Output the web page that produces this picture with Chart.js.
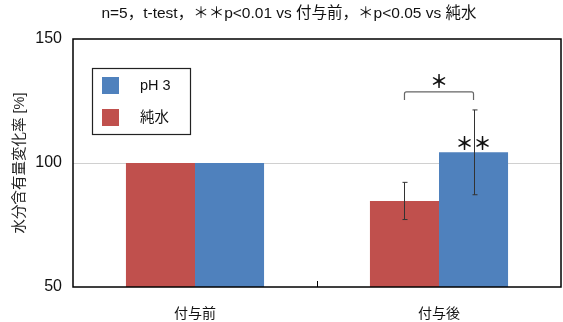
<!DOCTYPE html>
<html><head><meta charset="utf-8">
<script src="https://cdn.jsdelivr.net/npm/chart.js@4/dist/chart.umd.min.js"></script>
<style>html,body{margin:0;padding:0;background:#fff}#wrap{width:563px;height:322px}</style>
</head><body><div id="wrap"><canvas id="c" width="563" height="322"></canvas></div>
<script>
const categories = ['付与前', '付与後'];
const seriesNames = ['純水', 'pH 3'];
const purWater = [100, 84.7];
const ph3 = [100, 104.3];
const purWaterErr = [0, 7.5];
const ph3Err = [0, 17.1];
const yTicks = [50, 100, 150];
const titleText = 'n=5，t-test，＊＊p<0.01 vs 付与前，＊p<0.05 vs 純水';
const yTitle = '水分含有量変化率 [%]';

const FONT = '"Liberation Sans", "Noto Sans CJK JP", sans-serif';
const RED = '#C0504D', BLUE = '#4F81BD';

const deco = {
  id: 'deco',
  afterDatasetsDraw(chart) {
    const ctx = chart.ctx, a = chart.chartArea, ys = chart.scales.y;
    ctx.save();
    // error bars
    const errs = [purWaterErr, ph3Err];
    const vals = [purWater, ph3];
    ctx.strokeStyle = '#333'; ctx.lineWidth = 1;
    for (let d = 0; d < 2; d++) {
      const meta = chart.getDatasetMeta(d);
      meta.data.forEach((bar, i) => {
        const e = errs[d][i]; if (!e) return;
        const x = Math.round(bar.x) + 0.5;
        const y1 = ys.getPixelForValue(vals[d][i] + e), y2 = ys.getPixelForValue(vals[d][i] - e);
        ctx.beginPath();
        ctx.moveTo(x, y1); ctx.lineTo(x, y2);
        ctx.moveTo(x - 2, y1); ctx.lineTo(x + 3, y1);
        ctx.moveTo(x - 2, y2); ctx.lineTo(x + 3, y2);
        ctx.stroke();
      });
    }
    // significance bracket
    const rb = chart.getDatasetMeta(0).data[1], bb = chart.getDatasetMeta(1).data[1];
    const topY = ys.getPixelForValue(ph3[1] + ph3Err[1]) - 18;
    ctx.strokeStyle = '#666'; ctx.lineWidth = 1.2;
    ctx.beginPath();
    ctx.moveTo(rb.x, topY + 8); ctx.lineTo(rb.x, topY + 2);
    ctx.quadraticCurveTo(rb.x, topY, rb.x + 2, topY);
    ctx.lineTo(bb.x - 2, topY);
    ctx.quadraticCurveTo(bb.x, topY, bb.x, topY + 2);
    ctx.lineTo(bb.x, topY + 8);
    ctx.stroke();
    ctx.fillStyle = '#111'; ctx.textAlign = 'center'; ctx.textBaseline = 'middle';
    ctx.font = 'bold 18px "Noto Sans CJK JP"';
    ctx.fillText('＊', (rb.x + bb.x) / 2, topY - 11);
    ctx.fillText('＊＊', bb.x, ys.getPixelForValue(ph3[1]) - 9);
    // frame
    ctx.strokeStyle = '#000'; ctx.lineWidth = 1.5;
    ctx.strokeRect(a.left, a.top, a.right - a.left, a.bottom - a.top);
    // inner ticks
    ctx.lineWidth = 1;
    ctx.beginPath();
    const mid = (a.left + a.right) / 2;
    ctx.moveTo(Math.round(mid) + 0.5, a.bottom); ctx.lineTo(Math.round(mid) + 0.5, a.bottom - 6);
    ctx.stroke();
    // legend
    const lx = 92, ly = 68, lw = 98, lh = 66;
    ctx.fillStyle = '#fff'; ctx.fillRect(lx, ly, lw, lh);
    ctx.strokeStyle = '#222'; ctx.lineWidth = 1.2;
    ctx.strokeRect(lx + 0.5, ly + 0.5, lw, lh);
    ctx.fillStyle = BLUE; ctx.fillRect(102, 77, 17, 17);
    ctx.fillStyle = RED; ctx.fillRect(102, 109, 17, 17);
    ctx.fillStyle = '#111'; ctx.textAlign = 'left'; ctx.font = '14.5px ' + FONT;
    ctx.fillText(seriesNames[1], 140, 86);
    ctx.fillText(seriesNames[0], 140, 118);
    // title
    ctx.textAlign = 'center'; ctx.font = '15.5px ' + FONT;
    ctx.fillText(titleText, 289, 14);
    ctx.restore();
  }
};

new Chart(document.getElementById('c'), {
  type: 'bar',
  data: {
    labels: categories,
    datasets: [
      { label: seriesNames[0], data: purWater, backgroundColor: RED },
      { label: seriesNames[1], data: ph3, backgroundColor: BLUE }
    ]
  },
  options: {
    responsive: false, animation: false, devicePixelRatio: 1,
    categoryPercentage: 0.566, barPercentage: 1.0,
    layout: { padding: { left: 0, right: 2, top: 39, bottom: 0 } },
    plugins: { legend: { display: false }, tooltip: { enabled: false }, title: { display: false } },
    scales: {
      x: {
        grid: { display: false, drawTicks: false },
        border: { display: false },
        ticks: { color: '#111', font: { family: FONT, size: 14 }, padding: 19 },
        afterFit(s) { s.height = 35; }
      },
      y: {
        min: 50, max: 150,
        afterBuildTicks(s) { s.ticks = yTicks.map(v => ({ value: v })); },
        grid: { color: c => c.tick && c.tick.value === 100 ? '#d0d0d0' : 'rgba(0,0,0,0)', drawTicks: false },
        border: { display: false },
        ticks: { color: '#111', font: { family: FONT, size: 16 }, padding: 11 },
        title: { display: true, text: yTitle, color: '#222', font: { family: FONT, size: 14.5 }, padding: { top: 11, bottom: 0 } },
        afterFit(s) { s.width = 73; }
      }
    }
  },
  plugins: [deco]
});
</script></body></html>
